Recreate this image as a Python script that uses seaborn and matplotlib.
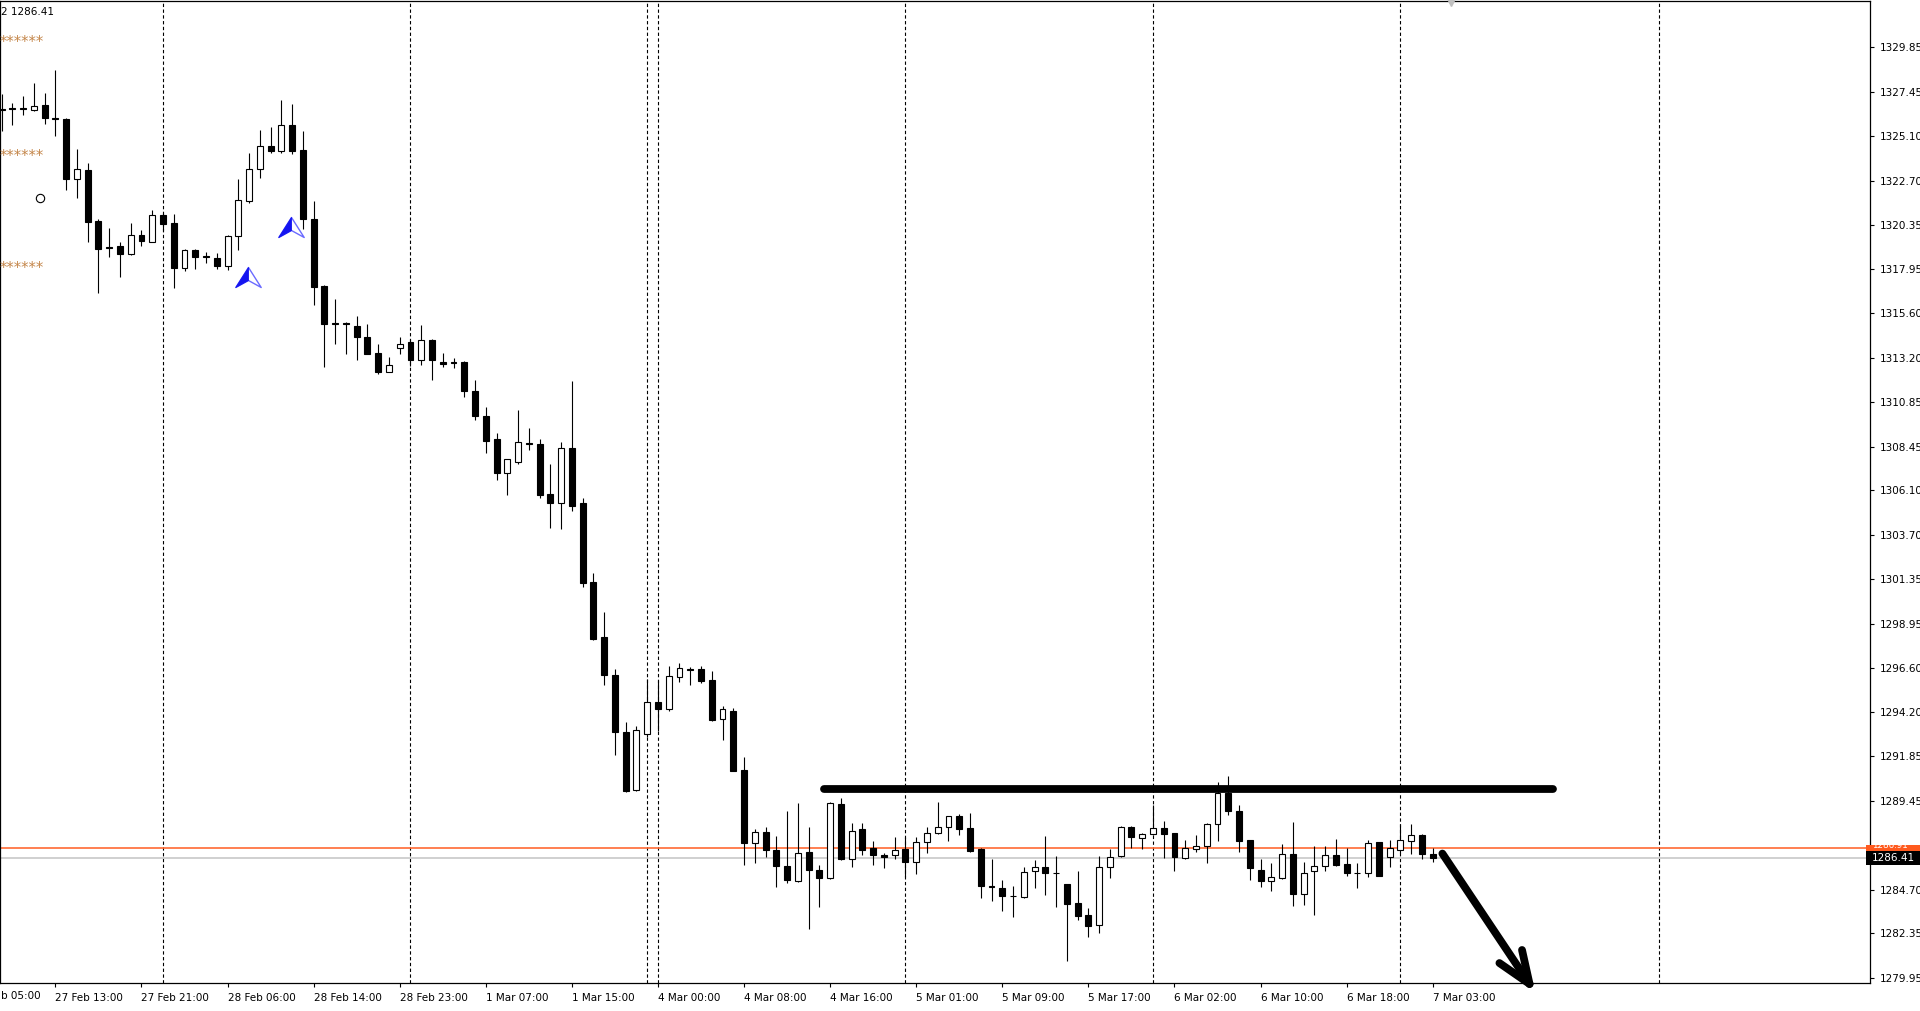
import numpy as np
import pandas as pd
import matplotlib
matplotlib.use("Agg")
import matplotlib.pyplot as plt
import matplotlib.transforms as mtransforms
from matplotlib.path import Path
from matplotlib.patches import Rectangle
import seaborn as sns

# ---------------- data (XAUUSD H1) ----------------
opens = [1326.56, 1326.56, 1326.56, 1326.50, 1326.77, 1326.07, 1326.02, 1322.81, 1323.29, 1320.56,
         1319.11, 1319.22, 1318.79, 1319.81, 1319.43, 1320.88, 1320.45, 1318.04, 1319.00, 1318.63,
         1318.57, 1318.15, 1319.75, 1321.63, 1323.34, 1324.57, 1324.31, 1325.70, 1324.36, 1320.66,
         1317.08, 1315.04, 1315.04, 1314.93, 1314.34, 1313.49, 1312.47, 1313.75, 1314.08, 1313.11,
         1314.18, 1313.00, 1312.95, 1313.00, 1311.45, 1310.11, 1308.83, 1307.06, 1307.65, 1308.61,
         1308.61, 1305.93, 1305.45, 1308.35, 1305.40, 1301.17, 1298.22, 1296.19, 1293.13, 1290.03,
         1293.03, 1294.74, 1294.37, 1296.08, 1296.51, 1296.51, 1295.92, 1293.83, 1294.26, 1291.10,
         1287.19, 1287.78, 1286.81, 1285.96, 1285.15, 1286.71, 1285.74, 1285.31, 1289.28, 1286.33,
         1287.94, 1286.92, 1286.55, 1286.55, 1286.87, 1286.17, 1287.24, 1287.72, 1288.05, 1288.64,
         1287.99, 1286.87, 1284.89, 1284.78, 1284.35, 1284.30, 1285.69, 1285.90, 1285.58, 1284.99,
         1283.98, 1283.33, 1282.80, 1285.90, 1286.49, 1288.05, 1287.46, 1287.67, 1287.99, 1287.72,
         1286.39, 1286.87, 1287.03, 1288.21, 1289.87, 1288.90, 1287.35, 1285.74, 1285.15, 1285.31,
         1286.60, 1284.46, 1285.69, 1285.96, 1286.55, 1286.06, 1285.58, 1285.58, 1287.24, 1286.44,
         1286.81, 1287.30, 1287.62, 1286.60]
highs = [1327.36, 1326.88, 1327.25, 1327.95, 1327.41, 1328.64, 1326.05, 1324.41, 1323.66, 1320.66,
         1320.18, 1319.43, 1320.45, 1320.07, 1321.15, 1320.99, 1320.93, 1319.02, 1319.02, 1318.90,
         1318.84, 1319.77, 1322.81, 1324.20, 1325.43, 1325.59, 1327.04, 1326.82, 1325.38, 1321.63,
         1317.10, 1316.38, 1315.15, 1315.47, 1315.04, 1313.97, 1313.27, 1314.34, 1314.20, 1314.99,
         1314.20, 1313.49, 1313.22, 1313.02, 1312.04, 1310.59, 1309.20, 1307.78, 1310.43, 1309.42,
         1308.88, 1307.49, 1308.72, 1311.99, 1305.67, 1301.65, 1299.56, 1296.51, 1293.67, 1293.46,
         1295.97, 1295.92, 1296.67, 1296.83, 1296.62, 1296.67, 1296.40, 1294.53, 1294.42, 1291.80,
         1287.94, 1288.05, 1287.56, 1288.90, 1289.33, 1288.05, 1286.01, 1289.38, 1289.60, 1288.26,
         1288.26, 1287.30, 1286.65, 1287.51, 1287.51, 1287.51, 1288.05, 1289.38, 1288.66, 1288.74,
         1288.80, 1286.92, 1286.33, 1285.21, 1284.89, 1285.90, 1286.28, 1287.56, 1286.49, 1285.01,
         1285.69, 1283.71, 1286.49, 1286.87, 1288.10, 1288.10, 1287.72, 1289.22, 1288.37, 1287.74,
         1287.35, 1287.62, 1288.26, 1290.46, 1290.78, 1289.22, 1287.37, 1286.33, 1286.12, 1287.14,
         1288.31, 1286.17, 1287.03, 1287.03, 1287.40, 1286.92, 1286.12, 1287.35, 1287.26, 1287.35,
         1288.21, 1288.21, 1287.67, 1286.92]
lows = [1325.38, 1325.70, 1326.23, 1326.45, 1325.75, 1325.11, 1322.22, 1321.79, 1319.43, 1316.70,
        1318.63, 1317.56, 1318.74, 1319.22, 1319.40, 1320.02, 1316.97, 1317.88, 1317.99, 1318.31,
        1317.99, 1317.93, 1319.00, 1321.52, 1322.86, 1324.20, 1324.20, 1324.15, 1320.13, 1316.06,
        1312.74, 1313.97, 1313.43, 1313.11, 1313.40, 1312.36, 1312.45, 1313.43, 1312.79, 1312.84,
        1312.04, 1312.74, 1312.68, 1311.13, 1309.90, 1308.13, 1306.68, 1305.88, 1307.54, 1308.29,
        1305.72, 1304.06, 1304.01, 1305.02, 1300.90, 1298.10, 1295.65, 1291.90, 1289.92, 1289.97,
        1292.87, 1293.19, 1294.26, 1295.81, 1295.65, 1295.76, 1293.72, 1292.70, 1291.03, 1286.01,
        1286.12, 1286.44, 1284.83, 1285.05, 1285.10, 1282.58, 1283.76, 1285.28, 1286.30, 1285.90,
        1286.55, 1286.01, 1285.85, 1286.33, 1285.37, 1285.53, 1286.65, 1287.70, 1287.30, 1287.62,
        1286.74, 1284.24, 1284.08, 1283.55, 1283.23, 1284.24, 1284.78, 1284.40, 1283.76, 1280.87,
        1283.06, 1282.15, 1282.37, 1285.31, 1286.44, 1286.92, 1286.87, 1287.65, 1286.39, 1285.69,
        1286.33, 1286.71, 1286.12, 1287.30, 1288.69, 1286.71, 1285.21, 1284.83, 1284.62, 1285.28,
        1283.82, 1283.87, 1283.33, 1285.69, 1285.96, 1285.42, 1284.78, 1285.37, 1285.42, 1285.90,
        1286.65, 1286.60, 1286.33, 1286.17]
closes = [1326.50, 1326.56, 1326.56, 1326.72, 1326.07, 1326.04, 1322.81, 1323.34, 1320.50, 1319.06,
          1319.11, 1318.79, 1319.81, 1319.49, 1320.88, 1320.40, 1318.04, 1319.00, 1318.63, 1318.63,
          1318.15, 1319.75, 1321.68, 1323.34, 1324.57, 1324.31, 1325.70, 1324.31, 1320.66, 1317.02,
          1315.04, 1315.04, 1315.04, 1314.34, 1313.43, 1312.47, 1312.84, 1313.97, 1313.11, 1314.18,
          1313.11, 1312.90, 1312.95, 1311.45, 1310.11, 1308.77, 1307.06, 1307.76, 1308.67, 1308.61,
          1305.88, 1305.45, 1308.35, 1305.29, 1301.12, 1298.12, 1296.19, 1293.13, 1289.97, 1293.24,
          1294.74, 1294.37, 1296.13, 1296.56, 1296.45, 1295.87, 1293.78, 1294.37, 1291.05, 1287.19,
          1287.78, 1286.81, 1285.96, 1285.21, 1286.65, 1285.74, 1285.31, 1289.33, 1286.33, 1287.83,
          1286.81, 1286.55, 1286.44, 1286.81, 1286.17, 1287.24, 1287.72, 1288.05, 1288.64, 1287.94,
          1286.76, 1284.89, 1284.83, 1284.35, 1284.35, 1285.64, 1285.90, 1285.58, 1285.58, 1283.92,
          1283.28, 1282.74, 1285.90, 1286.44, 1288.05, 1287.51, 1287.67, 1287.99, 1287.67, 1286.44,
          1286.92, 1287.03, 1288.21, 1289.87, 1288.90, 1287.30, 1285.85, 1285.15, 1285.37, 1286.60,
          1284.46, 1285.58, 1285.96, 1286.55, 1286.01, 1285.58, 1285.58, 1287.19, 1285.44, 1286.92,
          1287.35, 1287.62, 1286.60, 1286.41]

time_labels = ["27 Feb 13:00", "27 Feb 21:00", "28 Feb 06:00", "28 Feb 14:00",
               "28 Feb 23:00", "1 Mar 07:00", "1 Mar 15:00", "4 Mar 00:00", "4 Mar 08:00",
               "4 Mar 16:00", "5 Mar 01:00", "5 Mar 09:00", "5 Mar 17:00", "6 Mar 02:00",
               "6 Mar 10:00", "6 Mar 18:00", "7 Mar 03:00"]
time_label_bars = [5, 13, 21, 29, 37, 45, 53, 61, 69, 77, 85, 93, 101, 109, 117, 125, 133]
edge_time_label = "b 05:00"          # visible tail of "27 Feb 05:00" at the left edge
separator_bars = [15, 38, 60, 61, 84, 107, 130, 154]
price_ticks = [1329.85, 1327.45, 1325.10, 1322.70, 1320.35, 1317.95, 1315.60, 1313.20, 1310.85,
               1308.45, 1306.10, 1303.70, 1301.35, 1298.95, 1296.60, 1294.20, 1291.85, 1289.45,
               1284.70, 1282.35, 1279.95]
ask_price = 1286.91
bid_price = 1286.41
resistance_price = 1290.10
resistance_bars = [76.4, 144.2]
arrow_bars = [133.9, 142.0]
arrow_prices = [1286.63, 1279.64]
arrow_head_bars = [139.2, 141.3]
arrow_head_prices = [1280.76, 1281.46]
signal_bars = [22.93, 26.9]
signal_prices = [1317.52, 1320.21]
star_prices = [1330.11, 1324.01, 1317.99]
circle_bar, circle_price = 3.6, 1321.79

# ---------------- style ----------------
sns.set_theme(style="white")
plt.rcParams["font.family"] = ["DejaVu Sans"]

W, H = 1920, 1011
fig = plt.figure(figsize=(W / 100, H / 100), dpi=100)
fig.patch.set_facecolor("white")
ax = fig.add_axes([0, 28 / H, 1870 / W, 982 / H])
ax.set_facecolor("white")

df = pd.DataFrame({"bar": np.arange(len(opens)), "open": opens, "high": highs,
                   "low": lows, "close": closes})
df["bottom"] = df[["open", "close"]].min(axis=1)
df["height"] = (df["close"] - df["open"]).abs().clip(lower=0.03)
df["bull"] = df["close"] > df["open"]

# period separators
for b in separator_bars:
    ax.axvline(b, color="black", lw=0.8, ls=(0, (3, 2.2)), zorder=1)

# bid / ask lines
ax.axhline(ask_price, color="#ff6a33", lw=1.2, zorder=1.5)
ax.axhline(bid_price, color="#c8c8c8", lw=1.2, zorder=1.4)

# candles
ax.vlines(df["bar"], df["low"], df["high"], color="black", lw=0.8, zorder=2)
ax.bar(df["bar"], df["height"], bottom=df["bottom"], width=0.55,
       color=np.where(df["bull"], "white", "black"), edgecolor="black",
       linewidth=0.8, zorder=3)

# resistance line
ax.plot(resistance_bars, [resistance_price] * 2, color="black", lw=5.6,
        solid_capstyle="round", zorder=4)
# down arrow
ax.plot(arrow_bars, arrow_prices, color="black", lw=5.6, solid_capstyle="round",
        zorder=4, clip_on=False)
for hb, hp in zip(arrow_head_bars, arrow_head_prices):
    ax.plot([hb, arrow_bars[1]], [hp, arrow_prices[1]], color="black", lw=5.6,
            solid_capstyle="round", zorder=4, clip_on=False)

# signal arrows (blue arrowheads)
full_head = Path([(0, 10), (-12.7, -10), (0, -3), (12.7, -10), (0, 10)],
                 [Path.MOVETO, Path.LINETO, Path.LINETO, Path.LINETO, Path.CLOSEPOLY])
left_half = Path([(0, 10), (-12.7, -10), (0, -3), (0, 10), (0, 10)],
                 [Path.MOVETO, Path.LINETO, Path.LINETO, Path.LINETO, Path.CLOSEPOLY])
sig = pd.DataFrame({"bar": signal_bars, "price": signal_prices})
ax.plot(sig["bar"], sig["price"], ls="none", marker=full_head, ms=18.3,
        mfc="white", mec="#6b6bff", mew=1.0, zorder=5)
ax.plot(sig["bar"], sig["price"], ls="none", marker=left_half, ms=18.3,
        mfc="#1414f0", mec="#1414f0", mew=0.6, zorder=6)

# indicator text rows and circle
yt = mtransforms.blended_transform_factory(ax.transAxes, ax.transData)
for p in star_prices:
    ax.text(0.0, p, "******", transform=yt, ha="left", va="center", fontsize=10.5,
            color="#c4864a", zorder=6)
ax.plot([circle_bar], [circle_price], marker="o", ms=6, mfc="white", mec="black",
        mew=0.8, zorder=6)
fig.text(1 / W, 1 - 12 / H, "2 1286.41", ha="left", va="center", fontsize=7.5, color="black")

# axes / ticks
ax.yaxis.tick_right()
ax.set_yticks(price_ticks)
ax.set_yticklabels([f"{v:.2f}" for v in price_ticks])
ax.set_xticks(time_label_bars)
ax.set_xticklabels(time_labels)
for lbl in ax.get_xticklabels():
    lbl.set_horizontalalignment("left")
ax.tick_params(axis="y", which="both", right=True, left=False, direction="out", length=3,
               width=0.8, pad=4, labelsize=7.5, colors="black")
ax.tick_params(axis="x", which="both", bottom=True, top=False, direction="out", length=3,
               width=0.8, pad=4, labelsize=7.5, colors="black")
ax.grid(False)
for s in ax.spines.values():
    s.set_visible(True)
    s.set_color("black")
    s.set_linewidth(0.9)

# limits set last so tick settings do not widen them
ax.set_xlim(-0.149, 173.64)
ax.set_ylim(1279.69, 1332.34)

# tail of the first time label at the left edge
fig.text(1 / W, 1 - 996 / H, edge_time_label, ha="left", va="center",
         fontsize=7.5, color="black")

# chart shift marker
ax.plot([134.7], [1332.34], marker="v", ms=7, color="#c0c0c0", clip_on=False, zorder=6)

# price labels on the right
bt = mtransforms.blended_transform_factory(fig.transFigure, ax.transData)
px = 0.05356
ax.add_patch(Rectangle((1866 / W, ask_price - 8 * px), 54 / W, 11 * px, transform=bt,
                       facecolor="#ff5a1e", edgecolor="none", clip_on=False, zorder=20))
fig.text(1872 / W, ask_price + 2.8 * px, f"{ask_price:.2f}", transform=bt, ha="left",
         va="center", fontsize=6.3, color="white", zorder=21)
ax.add_patch(Rectangle((1866 / W, bid_price - 7.5 * px), 54 / W, 14 * px, transform=bt,
                       facecolor="black", edgecolor="none", clip_on=False, zorder=22))
fig.text(1872 / W, bid_price - 0.5 * px, f"{bid_price:.2f}", transform=bt, ha="left",
         va="center", fontsize=7.5, color="white", zorder=23)

fig.savefig("out.png", dpi=100, facecolor="white")
